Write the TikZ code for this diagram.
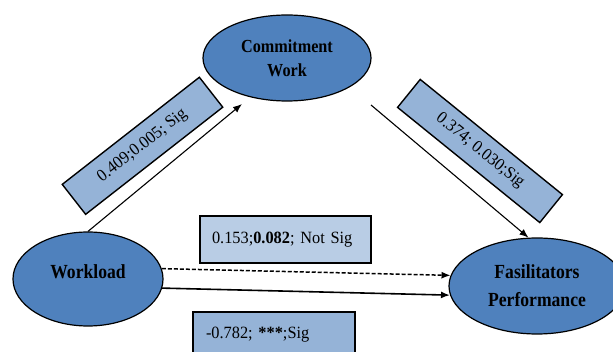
\documentclass[tikz,border=0pt]{standalone}
\usepackage{fontspec}
\setmainfont{Liberation Serif}
\newfontfamily\ellfont[FakeStretch=0.88]{Liberation Serif}
\newfontfamily\labfont[FakeStretch=0.95]{Liberation Serif}
\usetikzlibrary{arrows.meta,shapes.geometric}
\definecolor{ellblue}{HTML}{4F81BD}
\definecolor{boxblue}{HTML}{95B3D7}
\definecolor{lightbox}{HTML}{B9CDE5}
\begin{document}
\begin{tikzpicture}[x=1pt,y=-1pt,
  ell/.style={ellipse, draw=black, line width=1.2pt, fill=ellblue, inner sep=0pt, align=center, text=black},
  elltext/.style={font=\ellfont\bfseries\fontsize{20}{28}\selectfont, align=center, inner sep=0pt},
  labbox/.style={draw=black, line width=1.4pt, fill=boxblue, inner sep=0pt, font=\labfont\fontsize{17.2}{20}\selectfont},
  arr/.style={line width=1.1pt, -{Latex[length=9pt,width=7pt]}},
]
\useasboundingbox (0,0) rectangle (613,352);
\clip (0,0) rectangle (613,352);

% ellipses
\node[ell, minimum width=168pt, minimum height=86pt, font=\ellfont\bfseries\fontsize{18.4}{24}\selectfont] (cw) at (287,58) {Commitment\\Work};
\node[ell, minimum width=150pt, minimum height=94pt] (wl) at (88,279) {};
\node[elltext] (wlt) at (88,272) {Workload};
\node[ell, minimum width=176pt, minimum height=96pt, font=\ellfont\bfseries\fontsize{20}{28}\selectfont] (fp) at (537,286) {Fasilitators\\Performance};

% label boxes
\node[labbox, rotate=38, minimum width=174pt, minimum height=38pt] (l1) at (142.5,145.8) {0.409;0.005; Sig};
\node[labbox, rotate=-39, minimum width=183pt, minimum height=36pt] (l2) at (480,151) {0.374; 0.030;Sig};
\node[labbox, fill=lightbox, line width=2pt, minimum width=171pt, minimum height=47pt, text width=147pt, align=left] (l3) at (285.5,239.5) {0.153;\textbf{0.082}; Not Sig};
\node[labbox, minimum width=162pt, minimum height=46pt, text width=136pt, align=left] (l4) at (274,335) {-0.782; \textbf{***};Sig};

% connectors
\coordinate (cwIn) at (242,104);
\coordinate (cwOut) at (371,105);
\draw[arr] (wl.north) -- (cwIn);
\draw[arr] (cwOut) -- (fp.100);
\draw[arr, line width=1.5pt, dash pattern=on 4pt off 2pt] (wl.8) -- (fp.173);
\draw[arr, line width=1.6pt] (wl.-7) -- (fp.186);
\end{tikzpicture}
\end{document}
